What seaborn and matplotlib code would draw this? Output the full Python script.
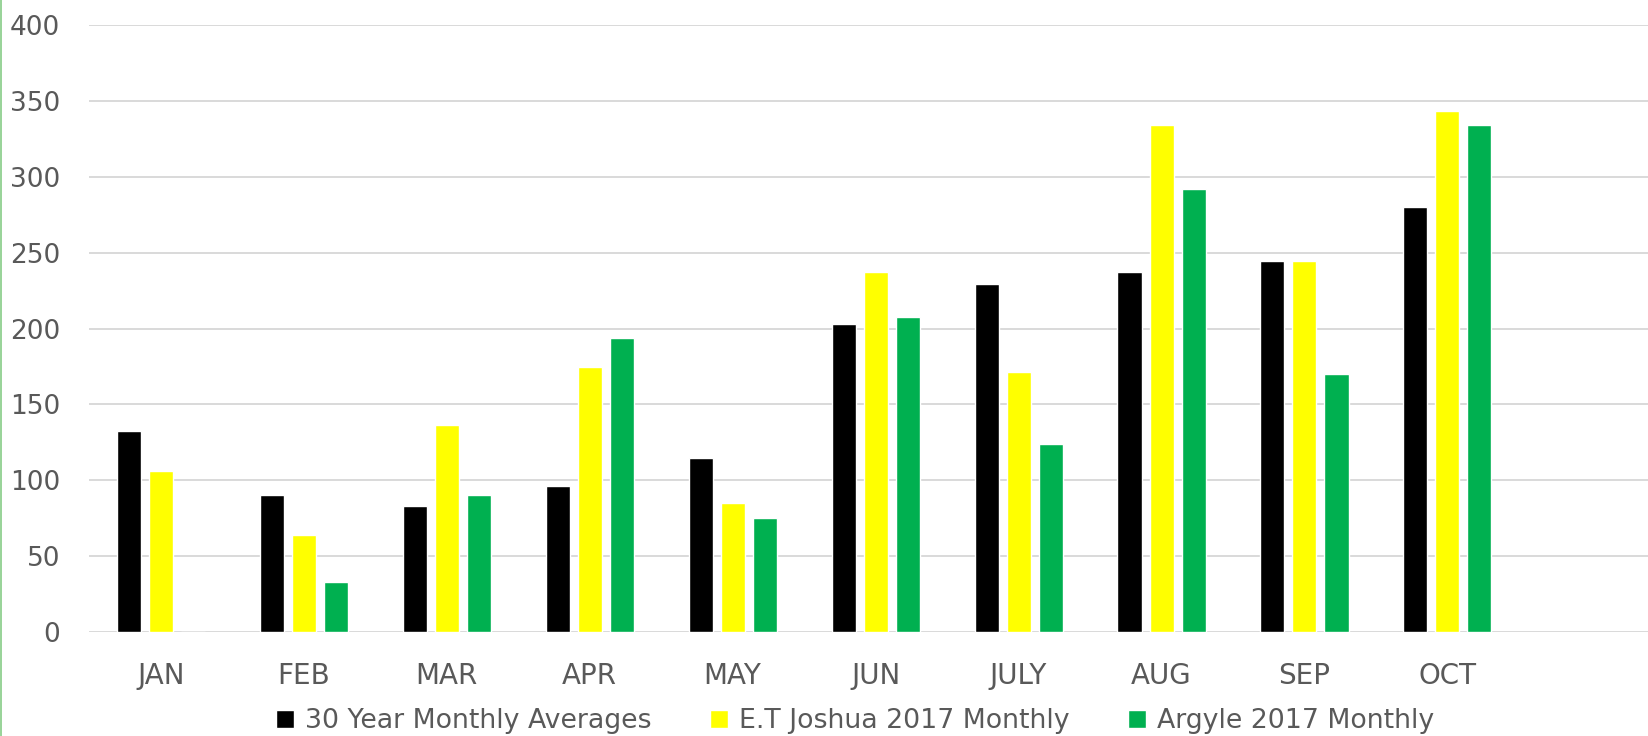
import matplotlib
matplotlib.use('Agg')
import matplotlib.pyplot as plt
import pandas as pd
import seaborn as sns
from matplotlib.patches import Rectangle

months = ['JAN', 'FEB', 'MAR', 'APR', 'MAY', 'JUN', 'JULY', 'AUG', 'SEP', 'OCT']
series_names = ['30 Year Monthly Averages', 'E.T Joshua 2017 Monthly', 'Argyle 2017 Monthly']
avg_30yr = [132.7, 90.3, 82.9, 96.5, 114.5, 203.2, 229.5, 237.0, 244.4, 280.3]
et_joshua = [106.1, 64.0, 136.7, 174.8, 85.1, 237.0, 171.4, 334.1, 244.4, 343.7]
argyle = [0, 33.1, 90.3, 194.0, 75.2, 207.6, 124.1, 291.7, 170.1, 334.1]
bar_colors = ['#000000', '#FFFF00', '#00B050']

rows = []
for name, vals in zip(series_names, [avg_30yr, et_joshua, argyle]):
    for m, v in zip(months, vals):
        rows.append({'month': m, 'series': name, 'value': v})
df = pd.DataFrame(rows)

sns.set_style('white')
plt.rcParams['font.family'] = ['DejaVu Sans']

fig = plt.figure(figsize=(16.49, 7.36), dpi=100)
ax = fig.add_axes([0.0542, 0.1413, 0.9458, 0.8245])

sns.barplot(data=df, x='month', y='value', hue='series', order=months,
            hue_order=series_names, palette=bar_colors, width=0.672, gap=0.25,
            saturation=1, ax=ax, legend=True)

ax.set_ylim(0, 400)
ax.set_yticks(range(0, 401, 50))
ax.set_xlim(-0.5, 10.41)
ax.yaxis.grid(True, color='#D9D9D9', linewidth=1.4)
ax.set_axisbelow(True)
for s in ax.spines.values():
    s.set_visible(False)
ax.set_xlabel('')
ax.set_ylabel('')
ax.tick_params(axis='y', length=0, pad=21, labelsize=19, labelcolor='#595959')
ax.tick_params(axis='x', length=0, pad=21.5, labelsize=20, labelcolor='#595959')

handles, labels = ax.get_legend_handles_labels()
ax.get_legend().remove()
leg = fig.legend(handles, labels, loc='center', bbox_to_anchor=(0.5185, 0.02),
                 ncol=3, frameon=False, fontsize=19.3, handlelength=0.68,
                 handleheight=0.68, handletextpad=0.38, columnspacing=2.2,
                 borderaxespad=0, borderpad=0)
for t in leg.get_texts():
    t.set_color('#595959')

# thin green border on the left edge
fig.patches.append(Rectangle((0, 0), 2.5 / 1649, 1, transform=fig.transFigure,
                             facecolor='#9AD49A', edgecolor='none'))

fig.savefig('out.png', dpi=100)
